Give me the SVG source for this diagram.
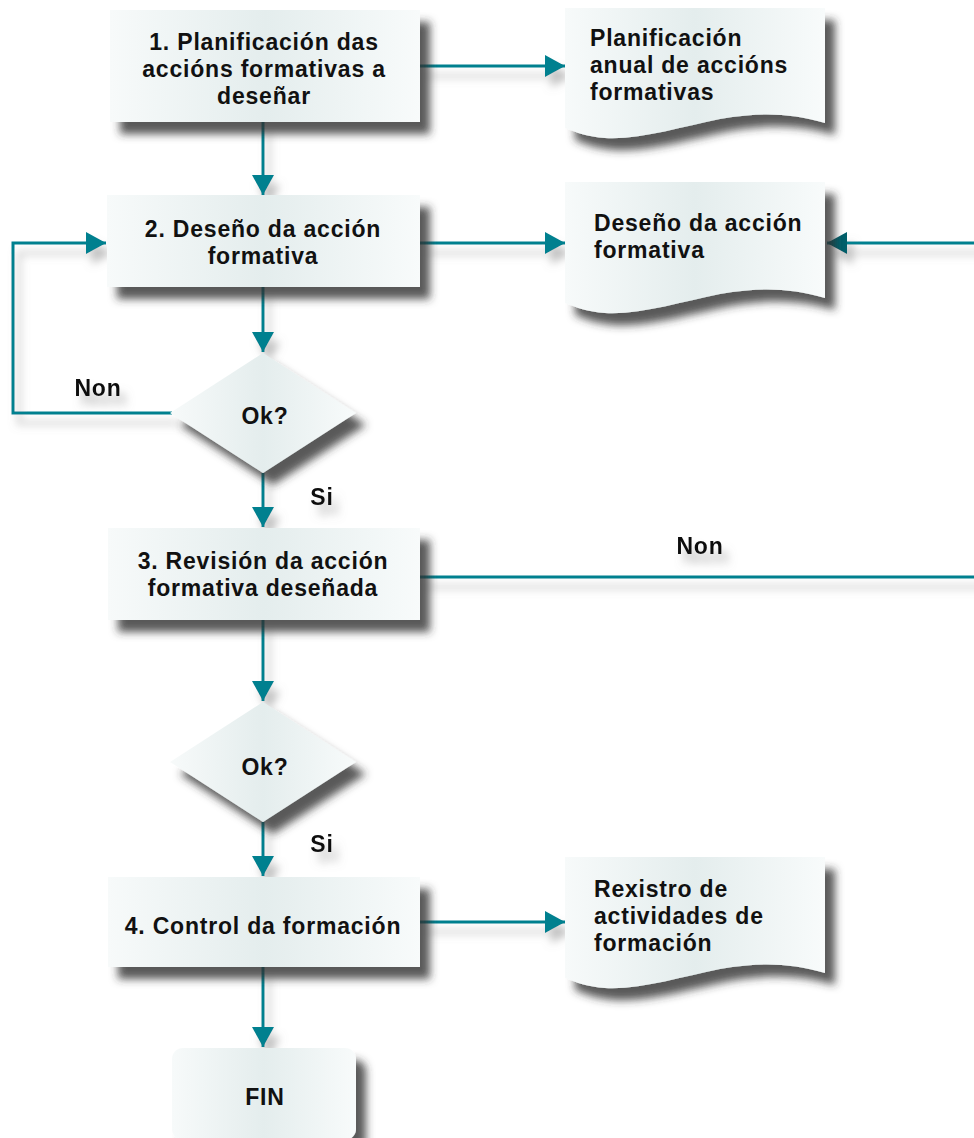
<svg xmlns="http://www.w3.org/2000/svg" width="974" height="1138" viewBox="0 0 974 1138">
<defs>
<linearGradient id="fill" x1="0" y1="0" x2="1" y2="0">
<stop offset="0" stop-color="#f7fafa"/>
<stop offset="0.5" stop-color="#e4eded"/>
<stop offset="1" stop-color="#f8fbfb"/>
</linearGradient>
<filter id="sh" x="-20%" y="-20%" width="150%" height="160%">
<feDropShadow dx="10" dy="12" stdDeviation="4.5" flood-color="#303030" flood-opacity="0.8"/>
</filter>
<filter id="lsh" x="-10%" y="-50%" width="130%" height="300%">
<feDropShadow dx="6" dy="10" stdDeviation="4" flood-color="#808080" flood-opacity="0.5"/>
</filter>
<marker id="ah" markerUnits="userSpaceOnUse" markerWidth="24" markerHeight="24" refX="20" refY="11" orient="auto">
<path d="M0,0 L20,11 L0,22 Z" fill="#00808f"/>
</marker>
<marker id="ahd" markerUnits="userSpaceOnUse" markerWidth="24" markerHeight="24" refX="20" refY="11" orient="auto">
<path d="M0,0 L20,11 L0,22 Z" fill="#005f6b"/>
</marker>
</defs>
<style>
.box{fill:url(#fill);filter:url(#sh)}
.t{font-family:"Liberation Sans",Arial,sans-serif;font-weight:bold;font-size:23px;letter-spacing:0.8px;fill:#111}
.c{text-anchor:middle}
.ln{fill:none;stroke:#00808f;stroke-width:3}
</style>
<g id="connectors" filter="url(#lsh)">
<path class="ln" d="M263,122 V195" marker-end="url(#ah)"/>
<path class="ln" d="M420,66 H565" marker-end="url(#ah)"/>
<path class="ln" d="M420,243 H565" marker-end="url(#ah)"/>
<path class="ln" d="M263,287 V352" marker-end="url(#ah)"/>
<path class="ln" d="M172,413 H13 V243 H106" marker-end="url(#ah)"/>
<path class="ln" d="M263,473 V527" marker-end="url(#ah)"/>
<path class="ln" d="M420,577 H980 V243 H827" marker-end="url(#ahd)"/>
<path class="ln" d="M263,620 V701" marker-end="url(#ah)"/>
<path class="ln" d="M263,822 V876" marker-end="url(#ah)"/>
<path class="ln" d="M420,922 H565" marker-end="url(#ah)"/>
<path class="ln" d="M263,967 V1047" marker-end="url(#ah)"/>
<text class="t c" x="98" y="396">Non</text>
<text class="t c" x="322" y="505">Si</text>
<text class="t c" x="700" y="554">Non</text>
<text class="t c" x="322" y="852">Si</text>
</g>
<g id="n1">
<rect class="box" x="110" y="10" width="310" height="112"/>
<text class="t c" x="264" y="50">1. Planificación das</text>
<text class="t c" x="264" y="77">accións formativas a</text>
<text class="t c" x="264" y="104">deseñar</text>
</g>
<g id="d1">
<path class="box" d="M565,8 H825 V123 C790,113 760,112 720,119 C680,127 640,140 605,138 C588,137 575,132 565,128 Z"/>
<text class="t" x="590" y="46">Planificación</text>
<text class="t" x="590" y="73">anual de accións</text>
<text class="t" x="590" y="100">formativas</text>
</g>
<g id="n2">
<rect class="box" x="107" y="195" width="313" height="92"/>
<text class="t c" x="263" y="237">2. Deseño da acción</text>
<text class="t c" x="263" y="264">formativa</text>
</g>
<g id="d2">
<path class="box" d="M565,182 H825 V298 C790,288 760,287 720,294 C680,302 640,315 605,313 C588,312 575,307 565,303 Z"/>
<text class="t" x="594" y="231">Deseño da acción</text>
<text class="t" x="594" y="258">formativa</text>
</g>
<g id="q1">
<path class="box" d="M263,353 L356,413 L263,473 L170,413 Z"/>
<text class="t c" x="265" y="424">Ok?</text>
</g>
<g id="n3">
<rect class="box" x="108" y="528" width="312" height="92"/>
<text class="t c" x="263" y="569">3. Revisión da acción</text>
<text class="t c" x="263" y="596">formativa deseñada</text>
</g>
<g id="q2">
<path class="box" d="M263,702 L356,762 L263,822 L170,762 Z"/>
<text class="t c" x="265" y="775">Ok?</text>
</g>
<g id="n4">
<rect class="box" x="108" y="877" width="312" height="90"/>
<text class="t c" x="263" y="934">4. Control da formación</text>
</g>
<g id="d3">
<path class="box" d="M565,857 H825 V973 C790,963 760,962 720,969 C680,977 640,990 605,988 C588,987 575,982 565,978 Z"/>
<text class="t" x="594" y="897">Rexistro de</text>
<text class="t" x="594" y="924">actividades de</text>
<text class="t" x="594" y="951">formación</text>
</g>
<g id="fin">
<rect class="box" x="172" y="1048" width="184" height="92" rx="11"/>
<text class="t c" x="265" y="1105">FIN</text>
</g>
</svg>
